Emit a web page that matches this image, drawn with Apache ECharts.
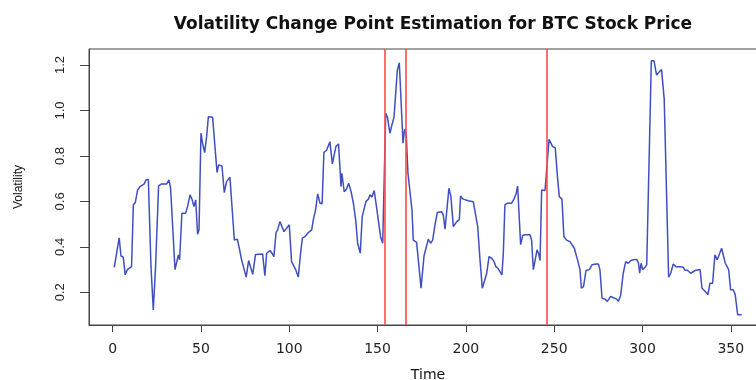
<!DOCTYPE html>
<html>
<head>
<meta charset="utf-8">
<script src="https://cdn.jsdelivr.net/npm/echarts@6/dist/echarts.min.js"></script>
<style>
  html, body { margin: 0; padding: 0; background: #ffffff; }
  #chart { width: 756px; height: 380px; }
</style>
</head>
<body>
<div id="chart"></div>
<script>
const times = [0.9,3.7,4.7,6.0,7.1,8.3,10.7,11.7,12.8,14.1,15.5,17.9,18.9,20.2,21.7,23.0,24.3,25.1,26.0,27.7,30.6,31.9,32.8,33.9,35.3,36.3,37.2,37.9,39.2,41.3,42.4,43.8,44.9,46.0,47.0,48.1,48.9,50.0,50.9,52.1,53.2,54.2,56.6,57.7,59.1,60.0,61.9,63.2,64.5,65.5,66.4,67.5,68.9,70.6,71.7,73.0,74.1,75.6,77.0,78.1,79.3,80.9,84.9,86.2,87.2,89.1,90.2,91.3,92.5,93.4,94.7,95.6,97.0,98.5,100.0,101.3,102.3,103.6,105.1,106.4,107.4,108.8,110.8,112.7,113.6,114.9,116.1,117.4,118.6,119.6,121.2,123.0,124.4,125.3,126.4,127.9,129.3,129.8,131.1,132.4,133.6,135.0,136.3,137.6,138.7,140.2,141.3,142.2,143.4,144.8,145.7,146.8,148.1,149.1,150.4,151.7,152.9,153.6,154.6,155.6,157.0,158.1,159.3,160.2,161.2,162.3,163.2,164.4,165.3,166.2,167.2,168.3,169.5,170.2,172.1,173.6,174.6,175.6,176.3,177.4,178.7,180.0,181.2,182.5,183.8,186.3,187.2,188.2,189.1,190.4,191.5,192.9,194.8,196.3,197.0,198.5,201.4,204.2,205.2,206.7,208.0,209.3,210.3,211.8,213.1,214.6,216.0,217.0,218.2,219.3,220.4,221.2,222.1,223.5,225.9,227.2,228.4,229.3,230.3,231.0,232.2,233.5,236.3,237.2,238.2,239.3,240.3,241.2,242.0,242.9,244.8,245.9,247.1,248.0,249.1,250.6,252.0,252.9,254.4,255.5,257.0,258.9,260.0,261.4,262.3,263.5,264.6,265.4,266.6,268.0,269.9,271.4,273.7,275.0,275.9,277.1,278.8,280.1,282.0,283.6,285.4,286.3,287.6,289.1,290.5,291.9,293.4,294.8,296.7,297.7,298.4,299.2,300.1,301.4,302.4,305.0,306.5,308.0,309.5,310.8,312.3,314.8,316.0,317.4,318.9,321.2,323.1,324.2,325.4,327.3,329.7,332.6,333.7,335.4,337.1,338.2,339.7,341.0,342.3,343.4,344.8,345.7,346.9,348.8,349.9,351.4,352.5,353.9,356.2];
const volatility = [0.31,0.44,0.36,0.355,0.277,0.30,0.313,0.585,0.595,0.65,0.665,0.677,0.695,0.697,0.313,0.123,0.313,0.32,0.668,0.677,0.677,0.695,0.658,0.65,0.30,0.30,0.365,0.343,0.548,0.548,0.577,0.629,0.61,0.577,0.607,0.456,0.475,0.90,0.856,0.815,0.885,0.973,0.97,0.967,0.727,0.76,0.756,0.639,0.687,0.68,0.706,0.706,0.43,0.434,0.394,0.343,0.335,0.267,0.34,0.343,0.279,0.367,0.369,0.273,0.372,0.384,0.372,0.357,0.463,0.475,0.511,0.505,0.467,0.482,0.497,0.335,0.34,0.30,0.267,0.372,0.438,0.445,0.463,0.475,0.519,0.563,0.633,0.592,0.59,0.815,0.826,0.863,0.765,0.765,0.841,0.853,0.665,0.724,0.643,0.655,0.68,0.643,0.592,0.519,0.416,0.372,0.533,0.53,0.599,0.61,0.629,0.62,0.648,0.648,0.519,0.445,0.416,0.42,0.988,0.97,0.90,0.936,0.97,0.967,1.178,1.21,1.212,0.856,0.917,0.90,0.724,0.724,0.56,0.43,0.42,0.30,0.218,0.218,0.36,0.36,0.434,0.416,0.43,0.497,0.551,0.555,0.54,0.478,0.482,0.658,0.622,0.489,0.511,0.52,0.624,0.61,0.603,0.599,0.595,0.489,0.343,0.218,0.222,0.284,0.357,0.35,0.335,0.313,0.305,0.313,0.277,0.372,0.585,0.592,0.592,0.61,0.633,0.668,0.668,0.41,0.45,0.453,0.453,0.43,0.30,0.297,0.387,0.37,0.34,0.65,0.648,0.65,0.873,0.873,0.841,0.836,0.695,0.621,0.61,0.445,0.43,0.423,0.428,0.394,0.394,0.335,0.30,0.218,0.225,0.296,0.30,0.321,0.325,0.325,0.30,0.174,0.17,0.16,0.182,0.176,0.17,0.16,0.185,0.284,0.335,0.328,0.34,0.343,0.345,0.33,0.284,0.328,0.30,0.31,0.321,1.219,1.219,1.156,1.17,1.18,1.05,0.267,0.284,0.325,0.313,0.313,0.31,0.297,0.297,0.284,0.296,0.30,0.218,0.205,0.19,0.24,0.24,0.365,0.343,0.35,0.394,0.394,0.328,0.30,0.211,0.211,0.19,0.101,0.101];
const changePoints = [154, 166, 246];
const xTicks = [0, 50, 100, 150, 200, 250, 300, 350];
const yTicks = [0.2, 0.4, 0.6, 0.8, 1.0, 1.2];

const seriesData = times.map((t, i) => [t, volatility[i]]);

const chart = echarts.init(document.getElementById('chart'), null, { renderer: 'canvas' });
chart.setOption({
  backgroundColor: '#ffffff',
  animation: false,
  title: {
    text: 'Volatility Change Point Estimation for BTC Stock Price',
    left: 428,
    top: 11,
    textAlign: 'center',
    textStyle: { fontFamily: 'DejaVu Sans', fontWeight: 'bold', fontSize: 17, color: '#111' }
  },
  grid: {
    left: 89, top: 49, width: 678, bottom: 55,
    containLabel: false,
    outerBoundsMode: 'none',
    show: true, borderColor: '#444', borderWidth: 1, backgroundColor: 'transparent'
  },
  xAxis: {
    type: 'value',
    min: -13.4, max: 370.5,
    name: 'Time',
    nameLocation: 'middle',
    nameGap: 43,
    nameTextStyle: { fontFamily: 'DejaVu Sans', fontSize: 14, color: '#111' },
    axisLine: { show: true, onZero: false, lineStyle: { color: '#444', width: 1 } },
    axisTick: { show: true, length: 7, customValues: xTicks, lineStyle: { color: '#444' } },
    axisLabel: { customValues: xTicks, margin: 17, fontFamily: 'DejaVu Sans', fontSize: 14, color: '#222' },
    splitLine: { show: false }
  },
  yAxis: {
    type: 'value',
    min: 0.0563, max: 1.2706,
    name: 'Volatility',
    nameLocation: 'middle',
    nameRotate: 90,
    nameGap: 64,
    nameTextStyle: { fontFamily: 'Liberation Sans', fontSize: 12, color: '#111' },
    axisLine: { show: true, onZero: false, lineStyle: { color: '#444', width: 1 } },
    axisTick: { show: true, length: 9, customValues: yTicks, lineStyle: { color: '#444' } },
    axisLabel: {
      customValues: yTicks, rotate: 90, margin: 22,
      fontFamily: 'Liberation Sans', fontSize: 13, color: '#222',
      formatter: v => v.toFixed(1)
    },
    splitLine: { show: false }
  },
  series: [{
    type: 'line',
    data: seriesData,
    showSymbol: false,
    symbol: 'none',
    lineStyle: { color: '#3f4fbf', width: 1.5 },
    markLine: {
      silent: true,
      symbol: ['none', 'none'],
      label: { show: false },
      lineStyle: { color: '#ff4a4a', width: 1.6, type: 'solid' },
      data: changePoints.map(c => ({ xAxis: c }))
    }
  }]
});
</script>
</body>
</html>
